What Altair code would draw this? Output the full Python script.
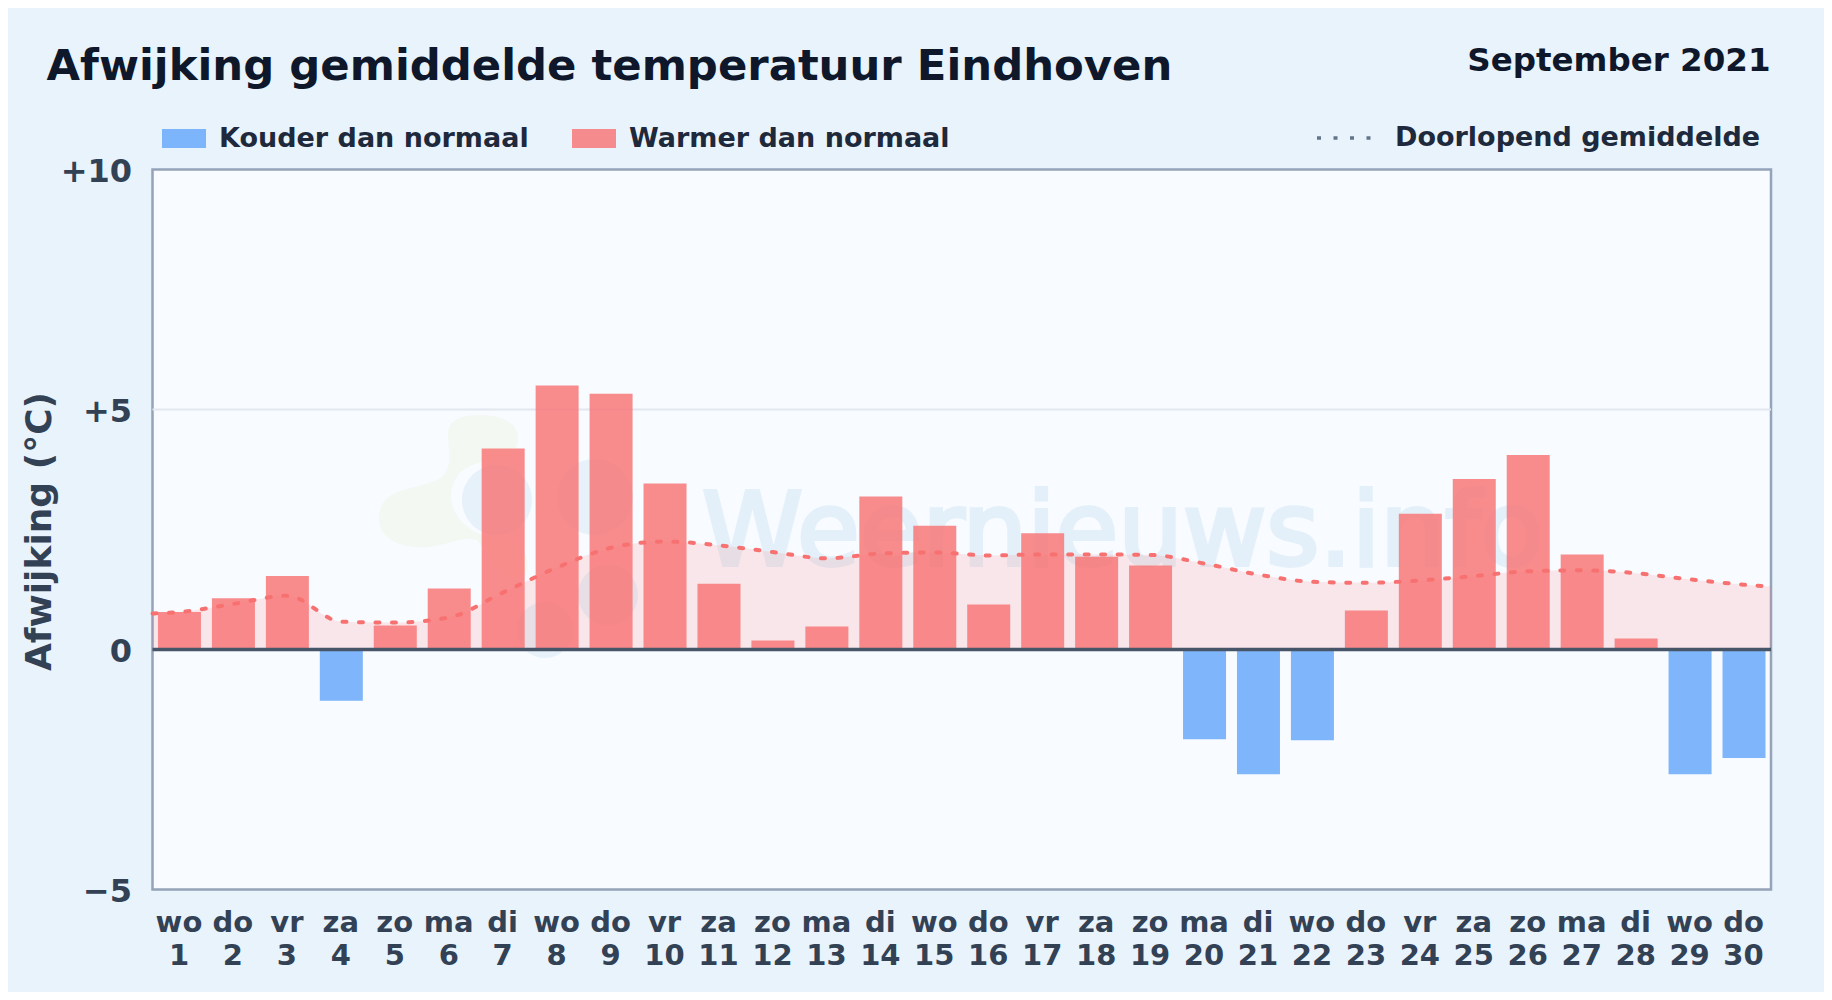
import json
import altair as alt
import pandas as pd

WEEKDAYS = ["wo","do","vr","za","zo","ma","di","wo","do","vr","za","zo","ma","di","wo",
            "do","vr","za","zo","ma","di","wo","do","vr","za","zo","ma","di","wo","do"]
DAYS = list(range(1, 31))
ANOMALY = [0.78, 1.07, 1.53, -1.07, 0.50, 1.27, 4.19, 5.50, 5.33, 3.46,
           1.37, 0.19, 0.48, 3.19, 2.58, 0.94, 2.42, 1.93, 1.75, -1.87,
           -2.60, -1.89, 0.81, 2.83, 3.55, 4.05, 1.98, 0.23, -2.60, -2.26]
MEAN_DAYS = [0.5] + DAYS + [30.5]
RUNNING_MEAN = [0.75, 0.78, 0.95, 1.12, 0.58, 0.56, 0.67, 1.19, 1.71, 2.12, 2.25,
                2.17, 2.03, 1.90, 2.00, 2.02, 1.96, 1.98, 1.98, 1.97, 1.79,
                1.56, 1.41, 1.39, 1.44, 1.53, 1.63, 1.65, 1.59, 1.46, 1.35, 1.31]
COLD_LABEL = "Kouder dan normaal"
WARM_LABEL = "Warmer dan normaal"
MEAN_LABEL = "Doorlopend gemiddelde"
TITLE = "Afwijking gemiddelde temperatuur Eindhoven"
PERIOD = "September 2021"
Y_TICKS = [-5, 0, 5, 10]
WATERMARK = "Weernieuws.info"

FONT = "DejaVu Sans"
BG = "#e8f3fc"
INK = "#334155"
DARK = "#1e293b"
RED = "#f87171"
BLUE = "#60a5fa"

bars = pd.DataFrame({"day": DAYS, "v": ANOMALY,
                     "kind": [WARM_LABEL if a > 0 else COLD_LABEL for a in ANOMALY]})
mean = pd.DataFrame({"day": MEAN_DAYS, "v": RUNNING_MEAN, "name": MEAN_LABEL})
one = pd.DataFrame({"a": [0]})

x = alt.X("day:Q", scale=alt.Scale(domain=[0.5, 30.5], nice=False, zero=False, padding=0),
          axis=alt.Axis(values=DAYS, title=None, domain=False, ticks=False, tickSize=0, grid=False,
                        labelExpr="[" + json.dumps(WEEKDAYS) + "[datum.value-1], ''+datum.value]",
                        labelAngle=0, labelFontSize=29, labelFontWeight="bold", labelColor=INK,
                        labelLineHeight=33, labelPadding=19, labelOverlap=False, labelFlush=False,
                        labelOffset=-1, labelBaseline="top", labelBound=False))
y = alt.Y("v:Q", scale=alt.Scale(domain=[-5, 10], nice=False, zero=False, padding=0),
          axis=alt.Axis(values=Y_TICKS, title="Afwijking (°C)", domain=False, ticks=False, tickSize=0,
                        grid=False, labelFontSize=32, labelFontWeight="bold", labelColor=INK,
                        labelPadding=21, labelOverlap=False, labelFlush=False, labelBaseline="middle",
                        labelOffset=2,
                        labelExpr="datum.value>0?'+'+datum.value:(datum.value<0?'\u2212'+abs(datum.value):'0')",
                        titleFontSize=36, titleFontWeight="bold", titleColor=INK,
                        titleX=-113.5, titleY=361.5, titleAngle=270, titleAlign="center",
                        titleBaseline="middle"))

grid = alt.Chart(pd.DataFrame({"v": [5]})).mark_rule(color="#e2e8f0", strokeWidth=2).encode(y=y)

# faint logo + watermark behind the data
GREEN_PATH = ("M0.10,-0.95 C0.35,-0.95 0.52,-0.85 0.47,-0.65 C0.42,-0.45 0.05,-0.55 -0.12,-0.35 "
              "C-0.30,-0.10 -0.10,0.20 0.15,0.25 C0.40,0.30 0.62,0.40 0.57,0.60 C0.52,0.85 0.25,0.55 0.07,0.30 "
              "C-0.10,0.25 -0.30,0.40 -0.55,0.37 C-0.85,0.35 -0.98,0.15 -0.88,-0.05 C-0.80,-0.22 -0.50,-0.22 -0.33,-0.30 "
              "C-0.15,-0.40 -0.22,-0.60 -0.22,-0.75 C-0.22,-0.90 -0.10,-0.95 0.10,-0.95 Z")
BLUE_PATH = ("M-0.78,-0.40 A0.35,0.35 0 1,0 -0.08,-0.40 A0.35,0.35 0 1,0 -0.78,-0.40 Z "
             "M0.17,-0.43 A0.38,0.38 0 1,0 0.93,-0.43 A0.38,0.38 0 1,0 0.17,-0.43 Z "
             "M0.38,0.55 A0.30,0.30 0 1,0 0.98,0.55 A0.30,0.30 0 1,0 0.38,0.55 Z "
             "M-0.23,0.90 A0.28,0.28 0 1,0 0.33,0.90 A0.28,0.28 0 1,0 -0.23,0.90 Z")
logo_green = alt.Chart(one).mark_point(shape=GREEN_PATH, filled=True, size=40000, color="#e3eeb0",
                                       opacity=0.16).encode(x=alt.value(317.5), y=alt.value(340.5))
logo_blue = alt.Chart(one).mark_point(shape=BLUE_PATH, filled=True, size=40000, color="#4a9bd0",
                                      opacity=0.1).encode(x=alt.value(387.5), y=alt.value(370.5))
wm = alt.Chart(one).mark_text(text=WATERMARK, font=FONT, fontSize=102, fontWeight="normal", align="left",
                              baseline="alphabetic", color="#4a9bd0", stroke="#4a9bd0", strokeWidth=4,
                              opacity=0.11).encode(x=alt.value(549.5), y=alt.value(395.5))

area = alt.Chart(mean).mark_area(interpolate="monotone", color=RED, opacity=0.15).encode(
    x=x, y=y, y2=alt.Y2(datum=0))

bar = alt.Chart(bars).mark_bar(size=43, opacity=0.8, orient="vertical").encode(
    x=x, y=y, y2=alt.Y2(datum=0),
    color=alt.Color("kind:N",
                    scale=alt.Scale(domain=[COLD_LABEL, WARM_LABEL], range=[BLUE, RED]),
                    legend=alt.Legend(title=None, orient="none", legendX=9.5, legendY=-53, columns=2,
                                      columnPadding=43, symbolType="M-1,-0.43H1V0.43H-1Z", symbolSize=1936,
                                      symbolStrokeWidth=0, symbolOpacity=0.8, labelOffset=13, labelFontSize=27,
                                      labelFontWeight="bold", labelColor=DARK, labelLimit=500)))

line = alt.Chart(mean).mark_line(interpolate="monotone", color=RED, strokeWidth=4, strokeCap="round").encode(
    x=x, y=y,
    strokeDash=alt.StrokeDash("name:N",
                              scale=alt.Scale(domain=[MEAN_LABEL], range=[[4, 12.5]]),
                              legend=alt.Legend(title=None, orient="none", legendX=1162.5, legendY=-63.5,
                                                symbolType="stroke", symbolSize=3600, symbolStrokeColor="#64748b",
                                                symbolStrokeWidth=3.5, labelOffset=16, labelFontSize=27,
                                                labelFontWeight="bold", labelColor=DARK, labelLimit=600)))

zero = alt.Chart(pd.DataFrame({"v": [0]})).mark_rule(color="#475569", strokeWidth=3.3).encode(y=y)

period = alt.Chart(one).mark_text(text=PERIOD, font=FONT, fontSize=32.5, fontWeight="bold", align="right",
                                  baseline="alphabetic", color="#0f172a").encode(
    x=alt.value(1618), y=alt.value(-99))

chart = (grid + logo_green + logo_blue + wm + area + bar + line + zero + period).properties(
    width=1618.5, height=720,
    autosize=alt.AutoSizeParams(type="none"),
    padding={"left": 144.5, "top": 161.5, "right": 53, "bottom": 102.5},
    background=BG,
    title=alt.TitleParams(TITLE, anchor="start", frame="group", orient="top", offset=0, dy=79, dx=-106,
                          baseline="alphabetic", align="left", font=FONT, fontSize=43.35, fontWeight="bold",
                          color="#0f172a"),
).configure(font=FONT).configure_view(stroke="#94a3b8", strokeWidth=2.5, fill="#f8fbff")

chart.save("out.html", embed_options={"renderer": "svg", "actions": False})
